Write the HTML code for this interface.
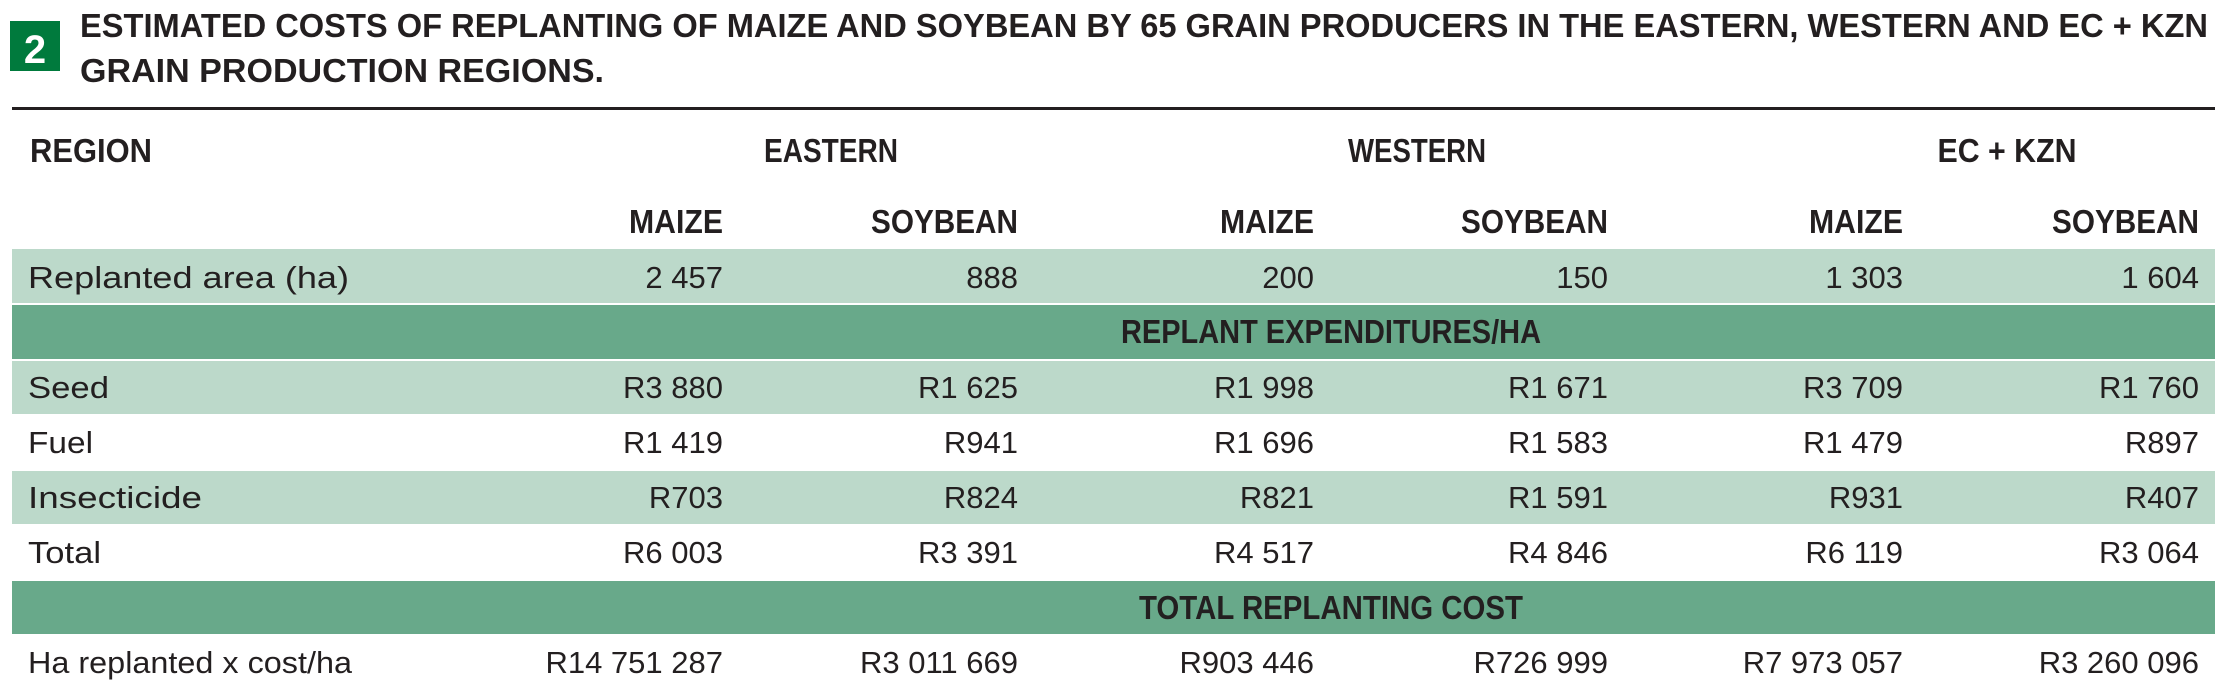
<!DOCTYPE html>
<html><head><meta charset="utf-8"><style>
html,body{margin:0;padding:0;background:#fff;}
svg{display:block;}
text{font-family:"Liberation Sans",sans-serif;fill:#231f20;}
.b{font-weight:bold;font-size:33px;}
.d{font-size:31px;}
</style></head><body>
<svg width="2215" height="690" viewBox="0 0 2215 690" xmlns="http://www.w3.org/2000/svg">
<rect x="10" y="21" width="50" height="50" fill="#007a3d"/>
<text x="35" y="63" text-anchor="middle" style="fill:#fff;font-weight:bold;font-size:40px">2</text>
<text class="b" x="80" y="37" textLength="2128" lengthAdjust="spacingAndGlyphs">ESTIMATED COSTS OF REPLANTING OF MAIZE AND SOYBEAN BY 65 GRAIN PRODUCERS IN THE EASTERN, WESTERN AND EC + KZN</text>
<text class="b" x="80" y="82" textLength="524" lengthAdjust="spacingAndGlyphs">GRAIN PRODUCTION REGIONS.</text>
<rect x="12" y="107" width="2203" height="3" fill="#231f20"/>

<text class="b" x="30" y="162" textLength="122" lengthAdjust="spacingAndGlyphs">REGION</text>
<text class="b" x="831" y="162" text-anchor="middle" textLength="134" lengthAdjust="spacingAndGlyphs">EASTERN</text>
<text class="b" x="1417" y="162" text-anchor="middle" textLength="138" lengthAdjust="spacingAndGlyphs">WESTERN</text>
<text class="b" x="2007" y="162" text-anchor="middle" textLength="139" lengthAdjust="spacingAndGlyphs">EC + KZN</text>

<g class="b" text-anchor="end">
<text class="b" x="723" y="233" textLength="94" lengthAdjust="spacingAndGlyphs">MAIZE</text>
<text class="b" x="1018" y="233" textLength="147" lengthAdjust="spacingAndGlyphs">SOYBEAN</text>
<text class="b" x="1314" y="233" textLength="94" lengthAdjust="spacingAndGlyphs">MAIZE</text>
<text class="b" x="1608" y="233" textLength="147" lengthAdjust="spacingAndGlyphs">SOYBEAN</text>
<text class="b" x="1903" y="233" textLength="94" lengthAdjust="spacingAndGlyphs">MAIZE</text>
<text class="b" x="2199" y="233" textLength="147" lengthAdjust="spacingAndGlyphs">SOYBEAN</text>
</g>

<rect x="12" y="249" width="2203" height="54" fill="#bcd9ca"/>
<rect x="12" y="305" width="2203" height="54" fill="#68a98a"/>
<rect x="12" y="361" width="2203" height="53" fill="#bcd9ca"/>
<rect x="12" y="471" width="2203" height="53" fill="#bcd9ca"/>
<rect x="12" y="581" width="2203" height="53" fill="#68a98a"/>

<text class="b" x="1331" y="343" text-anchor="middle" textLength="420" lengthAdjust="spacingAndGlyphs">REPLANT EXPENDITURES/HA</text>
<text class="b" x="1331" y="619" text-anchor="middle" textLength="384" lengthAdjust="spacingAndGlyphs">TOTAL REPLANTING COST</text>

<g class="d">
<text class="d" x="28" y="288" textLength="321" lengthAdjust="spacingAndGlyphs">Replanted area (ha)</text>
<text class="d" x="28" y="398" textLength="81" lengthAdjust="spacingAndGlyphs">Seed</text>
<text class="d" x="28" y="453" textLength="65" lengthAdjust="spacingAndGlyphs">Fuel</text>
<text class="d" x="28" y="508" textLength="174" lengthAdjust="spacingAndGlyphs">Insecticide</text>
<text class="d" x="28" y="563" textLength="73" lengthAdjust="spacingAndGlyphs">Total</text>
<text class="d" x="28" y="673" textLength="324" lengthAdjust="spacingAndGlyphs">Ha replanted x cost/ha</text>
</g>

<g text-anchor="end">
<text class="d" x="723" y="288">2 457</text><text class="d" x="1018" y="288">888</text><text class="d" x="1314" y="288">200</text><text class="d" x="1608" y="288">150</text><text class="d" x="1903" y="288">1 303</text><text class="d" x="2199" y="288">1 604</text>
<text class="d" x="723" y="398">R3 880</text><text class="d" x="1018" y="398">R1 625</text><text class="d" x="1314" y="398">R1 998</text><text class="d" x="1608" y="398">R1 671</text><text class="d" x="1903" y="398">R3 709</text><text class="d" x="2199" y="398">R1 760</text>
<text class="d" x="723" y="453">R1 419</text><text class="d" x="1018" y="453">R941</text><text class="d" x="1314" y="453">R1 696</text><text class="d" x="1608" y="453">R1 583</text><text class="d" x="1903" y="453">R1 479</text><text class="d" x="2199" y="453">R897</text>
<text class="d" x="723" y="508">R703</text><text class="d" x="1018" y="508">R824</text><text class="d" x="1314" y="508">R821</text><text class="d" x="1608" y="508">R1 591</text><text class="d" x="1903" y="508">R931</text><text class="d" x="2199" y="508">R407</text>
<text class="d" x="723" y="563">R6 003</text><text class="d" x="1018" y="563">R3 391</text><text class="d" x="1314" y="563">R4 517</text><text class="d" x="1608" y="563">R4 846</text><text class="d" x="1903" y="563">R6 119</text><text class="d" x="2199" y="563">R3 064</text>
<text class="d" x="723" y="673">R14 751 287</text><text class="d" x="1018" y="673">R3 011 669</text><text class="d" x="1314" y="673">R903 446</text><text class="d" x="1608" y="673">R726 999</text><text class="d" x="1903" y="673">R7 973 057</text><text class="d" x="2199" y="673">R3 260 096</text>
</g>
</svg>
</body></html>
